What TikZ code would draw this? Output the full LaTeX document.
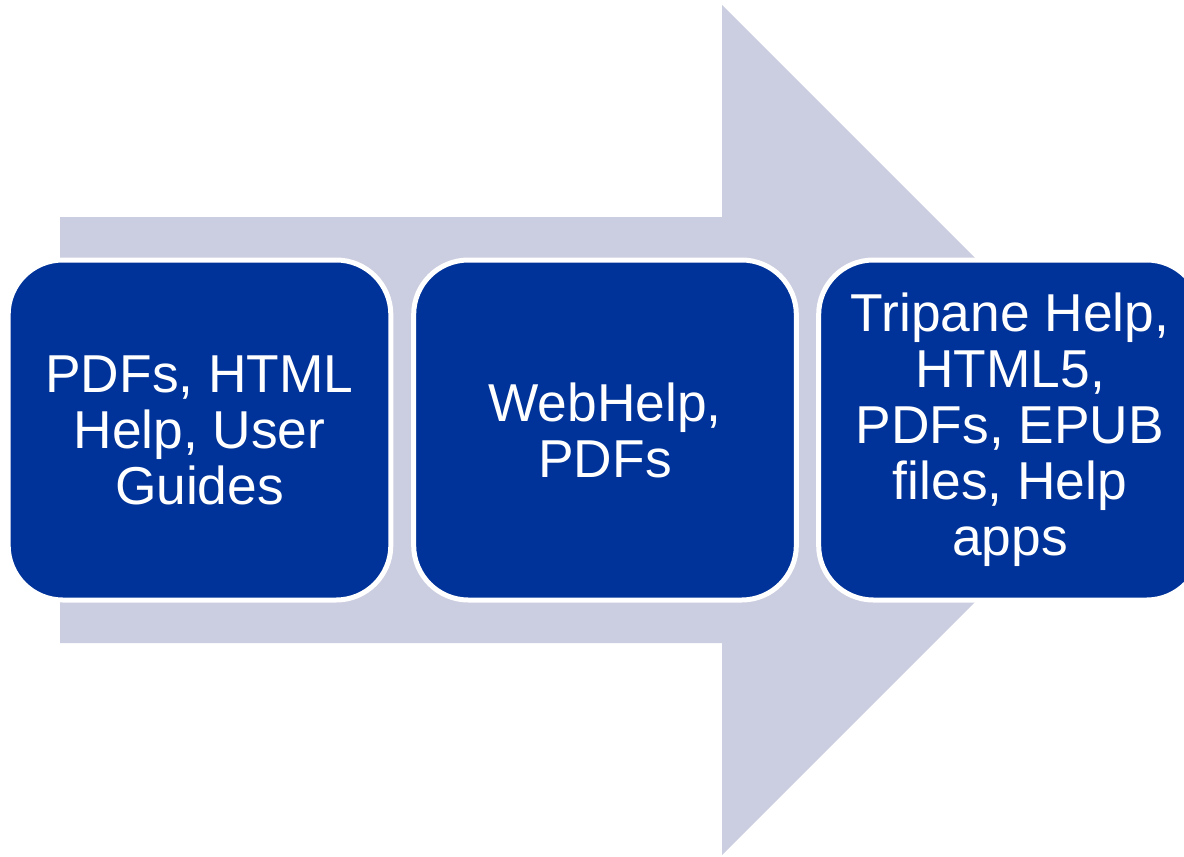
\documentclass[tikz,border=0pt]{standalone}
\usepackage{fontspec}
\setmainfont{Liberation Sans}
\definecolor{arrowgray}{RGB}{203,205,224}
\definecolor{boxblue}{RGB}{0,51,153}
\tikzset{
  stagebox/.style={rectangle, rounded corners=41pt, fill=boxblue, draw=white,
    line width=3.75pt, minimum width=287pt, minimum height=255pt, inner sep=0pt,
    text=white, align=center, font=\fontsize{40}{42}\selectfont}
}
\begin{document}
\begin{tikzpicture}[x=0.75pt,y=-0.75pt]
  \clip (0,0) rectangle (1184,856);

  %% big arrow
  \fill[arrowgray] (60,217) -- (722,217) -- (722,5) -- (1147,430)
    -- (722,855) -- (722,643) -- (60,643) -- cycle;

  %% stages
  \node[stagebox] (old) at (199.5,430) {PDFs, HTML\\Help, User\\Guides};
  \node[stagebox] (mid) at (605,430) {WebHelp,\\PDFs};
  \node[stagebox] (new) at (1010,430) {Tripane Help,\\HTML5,\\PDFs, EPUB\\files, Help\\apps};

\end{tikzpicture}
\end{document}
